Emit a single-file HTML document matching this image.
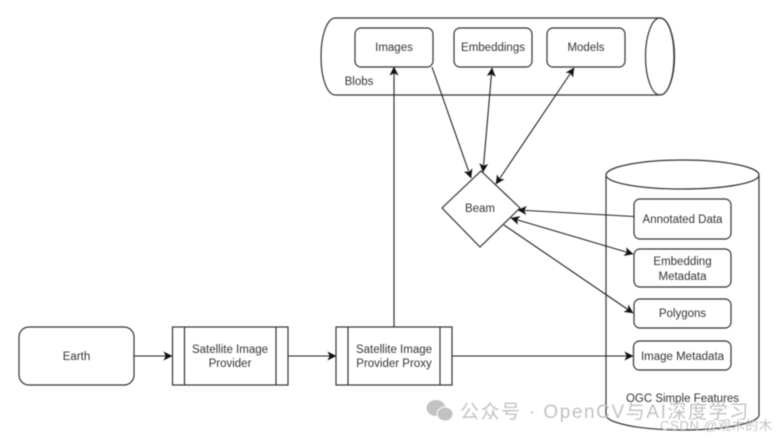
<!DOCTYPE html>
<html><head><meta charset="utf-8"><style>
html,body{margin:0;padding:0;background:#fff}
svg{display:block}
text{font-family:"Liberation Sans","Noto Sans CJK SC",sans-serif}
</style></head><body>
<svg width="778" height="439" viewBox="0 0 778 439" xmlns="http://www.w3.org/2000/svg">
<defs>
<marker id="a" viewBox="0 0 10 10" refX="9.5" refY="5" markerWidth="9" markerHeight="9" markerUnits="userSpaceOnUse" orient="auto-start-reverse"><path d="M0 0L10 5L0 10L2.5 5Z" fill="#111"/></marker>
</defs>
<g style="filter:blur(.5px)">
<g fill="none" stroke="#333" stroke-width="1.2">
<path d="M335.5 18H660C668 18 674 35 674 56.500C674 78 668 95 660 95H335.500C327 95 321 78 321 56.500C321 35 327 18 335.500 18Z"/>
<ellipse cx="660" cy="56.500" rx="14.500" ry="38.500"/>
<rect x="355" y="28" width="78" height="39" rx="6"/>
<rect x="454" y="28" width="78" height="39" rx="6"/>
<rect x="547" y="28" width="78" height="39" rx="6"/>
<path d="M481 171L520 208L480 247L442 208Z"/>
<path d="M606 175C606 167 640 160 682.500 160C725 160 759 167 759 175V415C759 423 725 430 682.500 430C640 430 606 423 606 415Z"/>
<path d="M606 175C606 183 640 189 682.500 189C725 189 759 183 759 175"/>
<rect x="634" y="199" width="97" height="40" rx="6"/>
<rect x="634" y="249" width="97" height="38" rx="6"/>
<rect x="634" y="299" width="97" height="29" rx="6"/>
<rect x="633.500" y="341" width="97.500" height="29" rx="6"/>
<rect x="19" y="327" width="115" height="58" rx="10"/>
<rect x="172.500" y="327" width="115.500" height="58"/>
<path d="M184.500 327V385M276 327V385"/>
<rect x="336" y="327" width="116" height="58"/>
<path d="M348 327V385M440 327V385"/>
</g>
<g fill="none" stroke="#222" stroke-width="1.100">
<path d="M134 356H172" marker-end="url(#a)"/>
<path d="M288 356H336" marker-end="url(#a)"/>
<path d="M394 327V67" marker-end="url(#a)"/>
<path d="M452 356H633" marker-end="url(#a)"/>
<path d="M432 67L471 178" marker-end="url(#a)"/>
<path d="M492 68L483 172" marker-start="url(#a)" marker-end="url(#a)"/>
<path d="M574 68L496 184" marker-start="url(#a)" marker-end="url(#a)"/>
<path d="M634 216.500L518 210" marker-end="url(#a)"/>
<path d="M511 218L633 254" marker-start="url(#a)" marker-end="url(#a)"/>
<path d="M504 225L633 313" marker-end="url(#a)"/>
</g>
<g fill="#333" font-size="11.500" text-anchor="middle">
<text x="394" y="51">Images</text>
<text x="493" y="51">Embeddings</text>
<text x="586" y="51">Models</text>
<text x="359" y="85">Blobs</text>
<text x="480" y="212">Beam</text>
<text x="682.500" y="223">Annotated Data</text>
<text x="682.500" y="265">Embedding</text>
<text x="682.500" y="280">Metadata</text>
<text x="682.500" y="317">Polygons</text>
<text x="682.500" y="360">Image Metadata</text>
<text x="682.500" y="402">OGC Simple Features</text>
<text x="76.500" y="360">Earth</text>
<text x="230" y="353">Satellite Image</text>
<text x="230" y="367">Provider</text>
<text x="394" y="353">Satellite Image</text>
<text x="394" y="367">Provider Proxy</text>
</g>
<g fill="#c2c2c2">
<ellipse cx="436" cy="408" rx="9.500" ry="8"/>
<ellipse cx="445" cy="414" rx="8" ry="7" stroke="#fff" stroke-width="1"/>
<text x="460" y="418" font-size="19" letter-spacing=".8" textLength="289">公众号 · OpenCV与AI深度学习</text>
<text x="660" y="430" font-size="13" textLength="112">CSDN @观木的木</text>
</g>
</g>
</svg>
</body></html>
